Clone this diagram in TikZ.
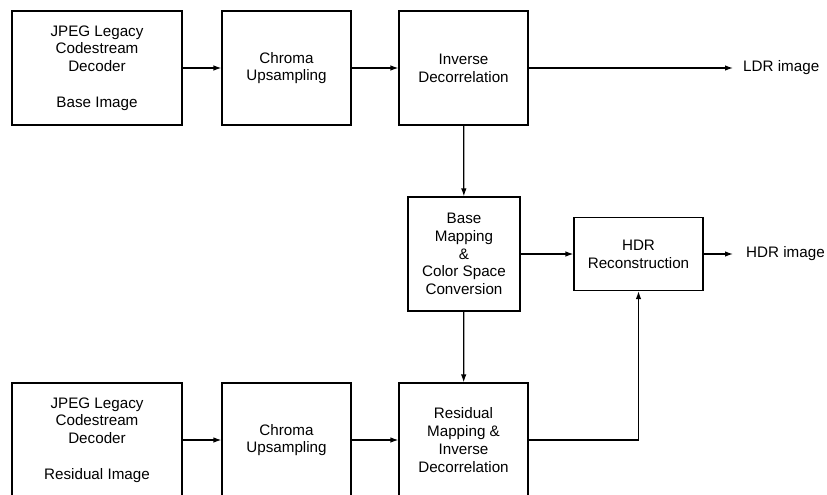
\documentclass[tikz,border=0pt]{standalone}
\usepackage{fontspec}
\setmainfont{Liberation Sans}
\usetikzlibrary{arrows.meta}
\begin{document}
\begin{tikzpicture}[x=1pt,y=-1pt,
  blk/.style={draw,line width=1.2pt,align=center,inner sep=0pt,font=\fontsize{15.2}{17.8}\selectfont},
  lbl/.style={anchor=west,inner sep=0pt,font=\fontsize{15.2}{17.8}\selectfont},
  conn/.style={line width=1.2pt,-{Latex[length=8pt,width=5.5pt]}}]
\clip (0,0) rectangle (827,495);
\fill[white] (0,0) rectangle (827,495);
\node[blk,minimum width=170pt,minimum height=114pt] (A) at (97,68) {JPEG Legacy\\Codestream\\Decoder\\[17.8pt]Base Image};
\node[blk,minimum width=129pt,minimum height=114pt] (B) at (286.5,68) {Chroma\\Upsampling};
\node[blk,minimum width=129pt,minimum height=114pt] (C) at (463.5,68) {Inverse\\Decorrelation};
\node[blk,minimum width=112pt,minimum height=114pt] (BM) at (464,254) {Base\\Mapping\\\&\\Color Space\\Conversion};
\node[blk,minimum width=129pt,minimum height=73pt] (HDR) at (638.5,254) {HDR\\Reconstruction};
\node[blk,minimum width=170pt,minimum height=114pt] (D) at (97,440) {JPEG Legacy\\Codestream\\Decoder\\[17.8pt]Residual Image};
\node[blk,minimum width=129pt,minimum height=114pt] (E) at (286.5,440) {Chroma\\Upsampling};
\node[blk,minimum width=129pt,minimum height=114pt] (F) at (463.5,440) {Residual\\Mapping \&\\Inverse\\Decorrelation};
\coordinate (ldr) at (733,68);
\coordinate (hdr) at (733,254);
\node[lbl] (ldrl) at (743,68) {LDR image};
\node[lbl] (hdrl) at (746,254) {HDR image};
\draw[conn] (A) -- (B);
\draw[conn] (B) -- (C);
\draw[conn] (C) -- (ldr);
\draw[conn] (C) -- (BM);
\draw[conn] (BM) -- (HDR);
\draw[conn] (HDR) -- (hdr);
\draw[conn] (BM) -- (F);
\draw[conn] (D) -- (E);
\draw[conn] (E) -- (F);
\draw[conn] (F.east) -| (HDR.south);
\end{tikzpicture}
\end{document}
